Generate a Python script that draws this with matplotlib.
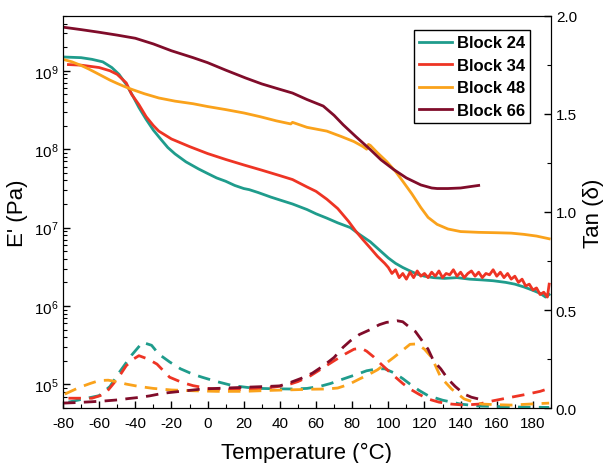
import numpy as np
import matplotlib
matplotlib.use('Agg')
import matplotlib.pyplot as plt
from matplotlib.ticker import MultipleLocator, LogLocator, NullFormatter

plt.rcParams['font.family'] = ['Liberation Sans', 'DejaVu Sans']
plt.rcParams['mathtext.fontset'] = 'custom'
plt.rcParams['mathtext.rm'] = 'Liberation Sans'
plt.rcParams['axes.unicode_minus'] = False

# =============================================================================
# storage modulus E' (Pa) vs temperature
# =============================================================================
labels = ['Block 24', 'Block 34', 'Block 48', 'Block 66']
colors = ['#1f9c8c', '#ee3424', '#faa21b', '#800c2a']

t24 = [-80, -70, -64, -58, -53, -49, -45, -41, -38, -34, -30, -26, -22, -18, -12, -5, 0, 5, 10, 15, 20,
       23, 28, 35, 40, 47, 55, 60, 66, 72, 79, 84, 90, 95, 100, 104, 108, 112, 116, 120, 125, 131, 138,
       145, 152, 158, 165, 170, 175, 178, 181, 184, 187, 189]
e24 = [1.5e9, 1.47e9, 1.4e9, 1.3e9, 1.1e9, 9e8, 6.7e8, 4.6e8, 3.4e8, 2.4e8, 1.75e8, 1.35e8, 1.05e8, 8.7e7,
       6.9e7, 5.6e7, 4.9e7, 4.3e7, 3.9e7, 3.45e7, 3.15e7, 3.05e7, 2.8e7, 2.45e7, 2.25e7, 2.0e7, 1.7e7,
       1.5e7, 1.32e7, 1.15e7, 1.0e7, 8.2e6, 6.6e6, 5.2e6, 4.1e6, 3.5e6, 3.1e6, 2.8e6, 2.55e6, 2.4e6, 2.3e6,
       2.25e6, 2.3e6, 2.2e6, 2.15e6, 2.1e6, 2.0e6, 1.9e6, 1.75e6, 1.65e6, 1.55e6, 1.45e6, 1.3e6, 1.4e6]

t34 = [-77, -70, -60, -54, -50, -45, -42, -38, -34, -30, -27, -20, -10, 0, 10, 20, 30, 40, 47, 55, 60, 66,
       72, 78, 82, 86, 90, 94, 98, 100, 102, 104, 106, 108, 110, 112, 114, 116, 118, 120, 122, 124, 126,
       128, 130, 132, 134, 136, 138, 140, 142, 144, 146, 148, 150, 152, 154, 156, 158, 160, 162, 164, 166,
       168, 170, 172, 174, 176, 178, 180, 182, 184, 186, 188, 189]
e34 = [1.2e9, 1.18e9, 1.1e9, 1.0e9, 9e8, 7e8, 5e8, 3.7e8, 2.6e8, 2.0e8, 1.7e8, 1.35e8, 1.08e8, 8.8e7,
       7.4e7, 6.3e7, 5.4e7, 4.6e7, 4.1e7, 3.3e7, 2.9e7, 2.3e7, 1.75e7, 1.2e7, 9e6, 7e6, 5.5e6, 4.3e6,
       3.5e6, 3.1e6, 2.6e6, 2.9e6, 2.3e6, 2.6e6, 2.2e6, 2.7e6, 2.3e6, 2.8e6, 2.4e6, 2.6e6, 2.3e6, 2.7e6,
       2.4e6, 2.8e6, 2.3e6, 2.6e6, 2.5e6, 2.9e6, 2.4e6, 2.7e6, 2.3e6, 2.6e6, 2.8e6, 2.4e6, 2.7e6, 2.3e6,
       2.6e6, 2.5e6, 2.9e6, 2.4e6, 2.7e6, 2.3e6, 2.6e6, 2.2e6, 2.4e6, 2.0e6, 2.2e6, 1.8e6, 1.9e6, 1.6e6,
       1.7e6, 1.4e6, 1.5e6, 1.3e6, 1.9e6]

t48 = [-80, -75, -70, -66, -62, -58, -54, -50, -46, -42, -35, -27, -18, -8, 0, 10, 20, 29, 38, 46, 47, 55,
       66, 74, 81, 86, 88, 89, 90, 94, 99, 104, 108, 113, 118, 122, 127, 133, 140, 150, 160, 168, 175, 182,
       189]
e48 = [1.4e9, 1.3e9, 1.17e9, 1.06e9, 9.5e8, 8.5e8, 7.6e8, 6.9e8, 6.3e8, 5.8e8, 5.1e8, 4.5e8, 4.1e8, 3.8e8,
       3.5e8, 3.2e8, 2.9e8, 2.6e8, 2.3e8, 2.1e8, 2.2e8, 1.9e8, 1.7e8, 1.45e8, 1.25e8, 1.08e8, 1.0e8,
       1.15e8, 1.12e8, 9e7, 7e7, 5.2e7, 3.9e7, 2.7e7, 1.8e7, 1.35e7, 1.1e7, 9.6e6, 8.9e6, 8.7e6, 8.6e6,
       8.5e6, 8.2e6, 7.8e6, 7.2e6]

t66 = [-80, -70, -60, -50, -40, -30, -20, -8, 0, 10, 21, 30, 40, 47, 55, 64, 70, 75, 82, 90, 96, 103,
       110, 118, 124, 127, 133, 140, 146, 150]
e66 = [3.6e9, 3.35e9, 3.1e9, 2.85e9, 2.6e9, 2.2e9, 1.8e9, 1.47e9, 1.27e9, 1.02e9, 8.1e8, 6.8e8, 5.8e8,
       5.2e8, 4.3e8, 3.55e8, 2.7e8, 2.05e8, 1.45e8, 9.9e7, 7.3e7, 5.5e7, 4.3e7, 3.5e7, 3.2e7, 3.15e7,
       3.15e7, 3.2e7, 3.35e7, 3.45e7]

# =============================================================================
# tan delta vs temperature (dashed, right axis)
# =============================================================================
d24_t = [-77, -60, -54, -49, -42, -36, -31, -27, -21, -15, -8, -3, 5, 14, 22, 29, 38, 47, 55, 62, 68, 75,
         82, 88, 94, 98, 103, 108, 112, 117, 122, 130, 140, 150, 159, 170, 180, 189]
d24 = [0.03, 0.063, 0.11, 0.18, 0.27, 0.335, 0.32, 0.275, 0.235, 0.2, 0.172, 0.157, 0.135, 0.114, 0.105,
       0.1, 0.098, 0.097, 0.1, 0.11, 0.125, 0.148, 0.17, 0.19, 0.2, 0.2, 0.18, 0.15, 0.122, 0.09, 0.063,
       0.04, 0.02, 0.01, 0.008, 0.005, 0.004, 0.003]
d34_t = [-77, -64, -57, -53, -49, -45, -41, -38, -33, -28, -21, -14, -8, 0, 10, 20, 29, 37, 44, 50, 57, 63,
         70, 76, 81, 85, 88, 92, 96, 100, 103, 108, 112, 117, 122, 128, 135, 142, 150, 158, 168, 177, 184,
         189]
d34 = [0.05, 0.05, 0.07, 0.114, 0.16, 0.216, 0.25, 0.267, 0.25, 0.224, 0.157, 0.13, 0.114, 0.1, 0.093,
       0.095, 0.1, 0.107, 0.117, 0.135, 0.165, 0.2, 0.241, 0.275, 0.3, 0.305, 0.29, 0.26, 0.224, 0.19, 0.165,
       0.125, 0.097, 0.07, 0.046, 0.03, 0.02, 0.015, 0.02, 0.037, 0.055, 0.071, 0.085, 0.1]
d48_t = [-79, -71, -65, -60, -55, -50, -45, -38, -30, -20, -8, 5, 20, 35, 47, 58, 66, 72, 78, 84, 89, 94,
         99, 103, 108, 112, 116, 120, 124, 129, 135, 142, 148, 152, 160, 168, 178, 189]
d48 = [0.071, 0.105, 0.125, 0.14, 0.142, 0.134, 0.122, 0.11, 0.1, 0.092, 0.088, 0.085, 0.085, 0.09,
       0.093, 0.096, 0.097, 0.102, 0.12, 0.148, 0.17, 0.195, 0.23, 0.258, 0.295, 0.325, 0.327, 0.3, 0.258,
       0.157, 0.097, 0.046, 0.028, 0.02, 0.017, 0.015, 0.02, 0.025]
d66_t = [-80, -72, -64, -57, -49, -44, -38, -32, -27, -22, -17, -10, -3, 5, 16, 24, 33, 40, 46, 52, 58,
         64, 70, 75, 79, 84, 90, 95, 99, 102, 105, 108, 112, 115, 118, 122, 125, 129, 133, 137, 142, 146,
         150]
d66 = [0.025, 0.028, 0.032, 0.036, 0.042, 0.048, 0.054, 0.062, 0.071, 0.078, 0.083, 0.09, 0.097, 0.1,
       0.104, 0.107, 0.11, 0.113, 0.131, 0.152, 0.178, 0.215, 0.258, 0.31, 0.343, 0.375, 0.4, 0.425, 0.437,
       0.44, 0.445, 0.44, 0.41, 0.39, 0.352, 0.3, 0.241, 0.2, 0.148, 0.11, 0.071, 0.055, 0.046]

# =============================================================================
# plot
# =============================================================================
fig = plt.figure(figsize=(6.07, 4.64), dpi=100)
ax = fig.add_axes([0.1038, 0.1185, 0.8039, 0.8449])
ax2 = ax.twinx()

for t, e, c, lab in zip([t24, t34, t48, t66], [e24, e34, e48, e66], colors, labels):
    ax.plot(t, e, color=c, lw=2, label=lab)

for t, d, c in zip([d24_t, d34_t, d48_t, d66_t], [d24, d34, d48, d66], colors):
    ax2.plot(t, d, color=c, lw=2, dashes=(4.5, 3))

ax.set_yscale('log')
ax.set_xlim(-80, 190)
ax.set_ylim(5e4, 5e9)
ax2.set_ylim(0, 2.0)

ax.xaxis.set_major_locator(MultipleLocator(20))
ax.xaxis.set_minor_locator(MultipleLocator(10))
ax.yaxis.set_major_locator(LogLocator(base=10, numticks=12))
ax.yaxis.set_minor_locator(LogLocator(base=10, subs=np.arange(2, 10), numticks=12))
ax.yaxis.set_minor_formatter(NullFormatter())
ax2.yaxis.set_major_locator(MultipleLocator(0.5))
ax2.yaxis.set_minor_locator(MultipleLocator(0.25))
ax2.yaxis.set_major_formatter(plt.FormatStrFormatter('%.1f'))

ax.tick_params(which='both', direction='in', labelsize=11, top=False)
ax.tick_params(axis='x', pad=6)
ax.tick_params(which='major', length=5, width=1)
ax.tick_params(which='minor', length=3, width=0.8)
ax2.tick_params(which='both', direction='in', labelsize=11)
ax2.tick_params(which='major', length=5, width=1)
ax2.tick_params(which='minor', length=3, width=0.8)

ax.set_xlabel('Temperature (°C)', fontsize=16, labelpad=8)
ax.set_ylabel("E' (Pa)", fontsize=16)
ax2.set_ylabel('Tan (δ)', fontsize=16, labelpad=4)

leg = ax.legend(loc='upper right', bbox_to_anchor=(0.958, 0.963), fancybox=False, edgecolor='black',
                framealpha=1, handlelength=2.0, labelspacing=0.45, borderpad=0.3, handletextpad=0.3,
                borderaxespad=0, prop={'weight': 'bold', 'size': 12})
leg.get_frame().set_linewidth(1)

plt.savefig('out.png', dpi=100)
